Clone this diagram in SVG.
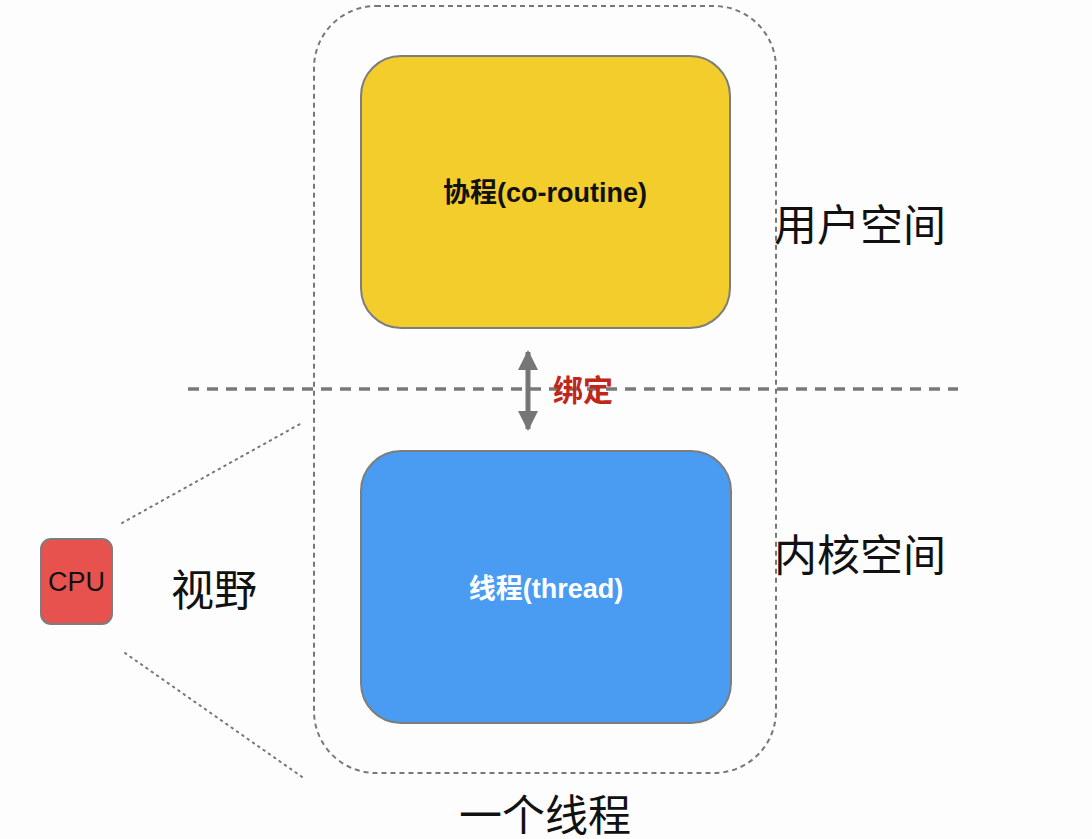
<svg xmlns="http://www.w3.org/2000/svg" width="1092" height="839" viewBox="0 0 1092 839">
<defs>
<style>
.lbl{font-family:"Liberation Sans","Noto Sans CJK SC",sans-serif;}
.big{font-size:43px;fill:#111;}
.box{stroke:#7d7d7d;stroke-width:2;}
.dot{stroke:#777;stroke-width:2;stroke-dasharray:1.5 5;fill:none;stroke-linecap:round;}
</style>
<marker id="ah" viewBox="0 0 10 10" refX="9" refY="5" markerWidth="4" markerHeight="4" orient="auto-start-reverse" markerUnits="strokeWidth">
<path d="M0,0 L10,5 L0,10 z" fill="#767676"/>
</marker>
</defs>
<rect width="1092" height="839" fill="#fdfdfd"/>
<g id="thread-container">
<rect x="314" y="6" width="462" height="767" rx="62" ry="62" fill="none" stroke="#777" stroke-width="2" stroke-dasharray="5 4"/>
</g>
<g id="divider">
<line x1="188" y1="389" x2="958" y2="389" stroke="#787878" stroke-width="3.5" stroke-dasharray="11 8"/>
</g>
<g id="coroutine">
<rect class="box" x="361" y="56" width="369" height="272" rx="40" ry="40" fill="#F2CD2C"/>
<text class="lbl" x="545" y="202" font-size="27" font-weight="bold" text-anchor="middle" fill="#111">协程(co-routine)</text>
</g>
<g id="thread">
<rect class="box" x="361" y="451" width="370" height="272" rx="40" ry="40" fill="#4A9CF2"/>
<text class="lbl" x="546" y="598" font-size="27" font-weight="bold" text-anchor="middle" fill="#fff">线程(thread)</text>
</g>
<g id="cpu">
<rect class="box" x="41" y="539" width="71" height="85" rx="10" ry="10" fill="#E8524E"/>
<text class="lbl" x="76.5" y="591" font-size="27" text-anchor="middle" fill="#111">CPU</text>
</g>
<g id="connectors">
<line x1="528" y1="352" x2="528" y2="429" stroke="#767676" stroke-width="5" marker-start="url(#ah)" marker-end="url(#ah)"/>
<line class="dot" x1="122" y1="523" x2="300" y2="424"/>
<line class="dot" x1="125" y1="653" x2="305" y2="779"/>
</g>
<g id="labels">
<text class="lbl" x="553" y="401" font-size="30" font-weight="bold" fill="#C0261A">绑定</text>
<text class="lbl big" x="774" y="241">用户空间</text>
<text class="lbl big" x="774" y="571">内核空间</text>
<text class="lbl big" x="171" y="606">视野</text>
<text class="lbl big" x="459" y="831">一个线程</text>
</g>
</svg>
